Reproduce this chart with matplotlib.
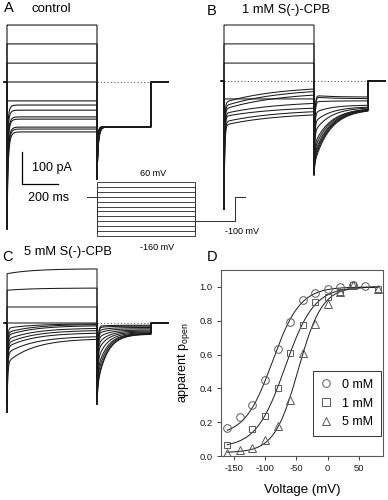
import numpy as np
import matplotlib.pyplot as plt
from matplotlib.lines import Line2D

plt.rcParams['font.family'] = ['Liberation Sans', 'DejaVu Sans']
plt.rcParams['axes.unicode_minus'] = False
plt.rcParams['mathtext.default'] = 'regular'

W, H = 388, 500          # figure size in pixels
PX_MS = 0.18             # pixels per ms in the current traces
PX_PA = 0.32             # pixels per pA in the current traces

# ---- voltage protocol ----
step_mv = [60, 40, 20, 0, -20, -40, -60, -80, -100, -120, -140, -160]
tail_mv = -100
hold_mv = 0
step_ms, tail_ms = 500, 300

# ---- panel A: control (pA, read at t_early and at end of step) ----
a_t_early, a_tau = 10, 10
a_early = [178, 119, 59, 0, -59, -90, -110, -140, -150, -180, -190, -210]
a_late = [178, 119, 59, 0, -59, -72, -88, -109, -116, -141, -147, -156]
a_cap = [np.nan] * 5 + [-250, -300, -340, -380, -410, -440, -462]
a_tail0 = [-240, -230, -220, -210, -200, -190, -180, -170, -160, -150, -145, -140]
a_tail_ss = [-140] * 12
a_tau_tail, a_tail_cap = 10, -306

# ---- panel B: 1 mM S(-)-CPB ----
b_t_early, b_tau = 50, 300
b_early = [175, 116, 56, 0, -56, -59, -70, -80, -96, -106, -122, -132]
b_late = [175, 116, 56, 0, -56, -25, -33, -44, -70, -85, -96, -106]
b_cap = [np.nan] * 5 + [-230, -270, -300, -330, -360, -385, -403]
b_tail0 = [-260, -250, -240, -230, -215, -45, -50, -65, -100, -130, -160, -200]
b_tail_ss = [-88, -87, -86, -85, -84, -50, -55, -62, -75, -80, -82, -85]
b_tau_tail, b_tail_cap = 90, -294

# ---- panel C: 5 mM S(-)-CPB ----
c_t_early, c_tau = 72, 150
c_early = [160, 105, 50, 0, -11, -20, -27, -38, -48, -58, -74, -95]
c_late = [169, 109, 50, 0, -3, -5, -9, -17, -24, -32, -43, -51]
c_cap = [np.nan] * 4 + [-120, -150, -180, -200, -220, -240, -260, -281]
c_tail0 = [-200, -190, -170, -150, -120, -90, -70, -50, -35, -25, -15, -10]
c_tail_ss = [-35, -34, -33, -32, -30, -28, -25, -22, -18, -14, -10, -7]
c_tau_tail, c_tail_cap = 55, -256

TAU_CAP = 4

# ---- panel D: apparent p_open ----
v_0mM = [-160, -140, -120, -100, -80, -60, -40, -20, 0, 20, 40, 60]
p_0mM = [0.165, 0.228, 0.30, 0.45, 0.635, 0.79, 0.92, 0.962, 0.988, 0.998, 1.012, 1.008]
v_1mM = [-160, -120, -100, -80, -60, -40, -20, 0, 20, 40, 80]
p_1mM = [0.065, 0.159, 0.234, 0.403, 0.609, 0.775, 0.91, 0.94, 0.97, 1.01, 0.99]
v_5mM = [-160, -140, -120, -100, -80, -60, -40, -20, 0, 20, 40, 80]
p_5mM = [0.02, 0.034, 0.05, 0.095, 0.18, 0.333, 0.61, 0.78, 0.90, 0.97, 1.01, 0.99]
# Boltzmann fits: (p_min, V_half, slope)
fit_0mM = (0.12, -88, 22)
fit_1mM = (0.05, -68, 23)
fit_5mM = (0.02, -47, 19)

fig = plt.figure(figsize=(W / 100, H / 100), dpi=100)


def fx(x):
    return x / W


def fy(y):
    return 1 - y / H


def trace_axes(x0, y0):
    # x0, y0: pixel position of t = 0 ms, I = 0 pA
    L, R, T, B = x0 - 10, min(x0 + 175, W), y0 - 70, y0 + 160
    ax = fig.add_axes([fx(L), fy(B), (R - L) / W, (B - T) / H])
    ax.set_xlim((L - x0) / PX_MS, (R - x0) / PX_MS)
    ax.set_ylim(-(B - y0) / PX_PA, -(T - y0) / PX_PA)
    ax.axis('off')
    ax.patch.set_visible(False)
    return ax


def build_trace(early, late, t_early, tau, cap, tail0, tail_ss, tau_t, tail_cap):
    t = np.concatenate([[0.0], np.geomspace(0.05, step_ms, 500)])
    if early == late:
        i_step = np.full_like(t, float(late))
    else:
        a = (early - late) / (np.exp(-t_early / tau) - np.exp(-step_ms / tau))
        i_inf = late - a * np.exp(-step_ms / tau)
        i_step = i_inf + a * np.exp(-t / tau)
    if not np.isnan(cap):
        i_step = i_step + (cap - i_step[0]) * np.exp(-t / TAU_CAP)
    tt = np.concatenate([[0.0], np.geomspace(0.05, tail_ms, 500)])
    i_tail = (tail_ss + (tail0 - tail_ss) * np.exp(-tt / tau_t)
              + (tail_cap - tail0) * np.exp(-tt / TAU_CAP))
    return t, i_step, step_ms + tt, i_tail


def draw_panel(ax, early, late, t_early, tau, cap, tail0, tail_ss, tau_t,
               tail_cap, lw, dotted_from, skip_zero_step=False):
    ax.plot([dotted_from, step_ms + tail_ms], [0, 0], ls=(0, (1, 2)),
            color='0.35', lw=0.8)
    for k, mv in enumerate(step_mv):
        t, i1, t2, i2 = build_trace(early[k], late[k], t_early, tau, cap[k],
                                    tail0[k], tail_ss[k], tau_t, tail_cap)
        end = step_ms + tail_ms
        if skip_zero_step and mv == 0:
            tx = np.concatenate([[step_ms], t2, [end, end + 95]])
            ix = np.concatenate([[0], i2, [0, 0]])
        else:
            tx = np.concatenate([[-15, 0], t, t2, [end, end + 95]])
            ix = np.concatenate([[0, 0], i1, i2, [0, 0]])
        ax.plot(tx, ix, color='0.1', lw=lw, solid_joinstyle='miter')


# panel A
ax_a = trace_axes(7, 82)
draw_panel(ax_a, a_early, a_late, a_t_early, a_tau, a_cap, a_tail0,
           a_tail_ss, a_tau_tail, a_tail_cap, 0.8, step_ms)
# scale bar: 100 pA, 200 ms
ax_a.plot([85, 85, 85 + 200], [-218, -218 - 100, -218 - 100],
          color='black', lw=0.9)

# panel B
ax_b = trace_axes(224, 81)
draw_panel(ax_b, b_early, b_late, b_t_early, b_tau, b_cap, b_tail0,
           b_tail_ss, b_tau_tail, b_tail_cap, 0.75, 0, skip_zero_step=True)

# panel C
ax_c = trace_axes(7, 323)
draw_panel(ax_c, c_early, c_late, c_t_early, c_tau, c_cap, c_tail0,
           c_tail_ss, c_tau_tail, c_tail_cap, 0.75, step_ms)

# voltage protocol inset
px_ms_p, px_mv_p = 0.196, 0.2455
x0p, y0p = 97, 196.7
Lp, Rp, Tp, Bp = 80, 250, 175, 245
ax_p = fig.add_axes([fx(Lp), fy(Bp), (Rp - Lp) / W, (Bp - Tp) / H])
ax_p.set_xlim((Lp - x0p) / px_ms_p, (Rp - x0p) / px_ms_p)
ax_p.set_ylim(-(Bp - y0p) / px_mv_p, (y0p - Tp) / px_mv_p)
ax_p.axis('off')
ax_p.patch.set_visible(False)
for mv in step_mv:
    ax_p.plot([-51, 0, 0, 500, 500, 704, 704, 755],
              [hold_mv, hold_mv, mv, mv, tail_mv, tail_mv, hold_mv, hold_mv],
              color='0.2', lw=0.65)

# texts
fs_lab = 9.3
fig.text(fx(8.5), fy(8.5), 'A', fontsize=10.5, ha='center', va='center')
fig.text(fx(32), fy(8.5), 'control', fontsize=9.5, ha='left', va='center')
fig.text(fx(212), fy(11), 'B', fontsize=10.5, ha='center', va='center')
fig.text(fx(242), fy(10), '1 mM S(-)-CPB', fontsize=fs_lab, ha='left', va='center')
fig.text(fx(7.5), fy(257), 'C', fontsize=10.5, ha='center', va='center')
fig.text(fx(24), fy(252.5), '5 mM S(-)-CPB', fontsize=fs_lab, ha='left', va='center')
fig.text(fx(212), fy(257), 'D', fontsize=10.5, ha='center', va='center')
fig.text(fx(52), fy(168), '100 pA', fontsize=9, ha='center', va='center')
fig.text(fx(49), fy(198), '200 ms', fontsize=9, ha='center', va='center')
fig.text(fx(153), fy(173), '60 mV', fontsize=6.5, ha='center', va='center')
fig.text(fx(157), fy(247), '-160 mV', fontsize=6.5, ha='center', va='center')
fig.text(fx(242), fy(231), '-100 mV', fontsize=6.5, ha='center', va='center')

# panel D
ax_d = fig.add_axes([fx(221), fy(456), 162 / W, 186 / H])
v_fit = np.linspace(-160, 80, 200)
for (pmin, vh, k) in (fit_0mM, fit_1mM, fit_5mM):
    ax_d.plot(v_fit, pmin + (1 - pmin) / (1 + np.exp((vh - v_fit) / k)),
              color='0.1', lw=0.7)
mk = dict(ls='none', mfc='none', mec='0.35', mew=0.7, ms=5.5)
ax_d.plot(v_0mM, p_0mM, marker='o', **mk)
ax_d.plot(v_1mM, p_1mM, marker='s', **{**mk, 'ms': 5})
ax_d.plot(v_5mM, p_5mM, marker='^', **mk)
ax_d.set_xlim(-170, 88)
ax_d.set_ylim(0, 1.1)
ax_d.set_xticks([-150, -100, -50, 0, 50])
ax_d.set_yticks([0.0, 0.2, 0.4, 0.6, 0.8, 1.0])
ax_d.set_yticklabels(['%.1f' % v for v in [0.0, 0.2, 0.4, 0.6, 0.8, 1.0]])
ax_d.tick_params(direction='out', length=3, width=0.7, colors='0.25',
                 labelsize=6.8, labelcolor='0.1', pad=3)
for sp in ax_d.spines.values():
    sp.set_color('0.35')
    sp.set_linewidth(0.8)
ax_d.set_xlabel('Voltage (mV)', fontsize=9.5)
ax_d.xaxis.set_label_coords(0.5, -0.15)
ax_d.set_ylabel('apparent p$_{open}$', fontsize=9)
ax_d.yaxis.set_label_coords(-0.18, 0.5)

handles = [Line2D([], [], marker=m, **mk) for m in ('o', 's', '^')]
leg = ax_d.legend(handles, ['0 mM', '1 mM', '5 mM'], loc='lower right',
                  bbox_to_anchor=(0.985, 0.108), frameon=True, fancybox=False,
                  edgecolor='0.2', framealpha=1, fontsize=9, handlelength=0.8,
                  handletextpad=0.9, borderpad=0.6, labelspacing=0.55,
                  borderaxespad=0)
leg.get_frame().set_linewidth(0.7)

fig.savefig('out.png', dpi=100)
